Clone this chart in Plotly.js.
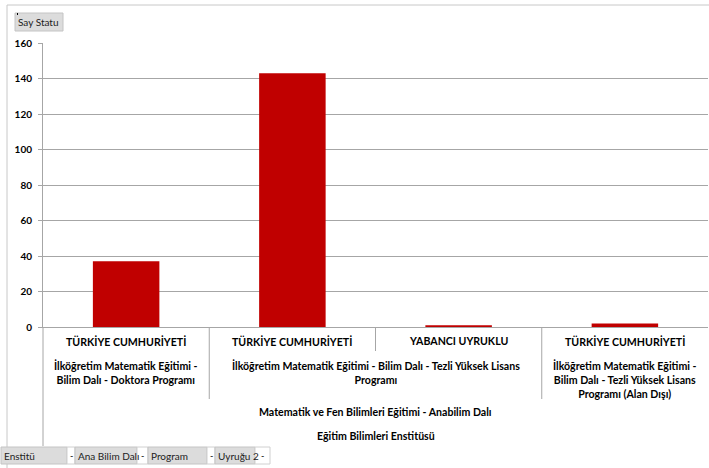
<!DOCTYPE html>
<html><head><meta charset="utf-8">
<script src="https://cdn.plot.ly/plotly-3.0.1.min.js"></script>
<style>html,body{margin:0;padding:0;background:#fff;}#chart{width:709px;height:468px;}</style>
</head><body><div id="chart"></div>
<script>
const categories = ["c1","c2","c3","c4"];
const values = [37, 143, 1, 2];
const uyruk = ["TÜRKİYE CUMHURİYETİ","TÜRKİYE CUMHURİYETİ","YABANCI UYRUKLU","TÜRKİYE CUMHURİYETİ"];
const programs = [
  {text:"İlköğretim Matematik Eğitimi -<br>Bilim Dalı - Doktora Programı", from:0, to:0},
  {text:"İlköğretim Matematik Eğitimi - Bilim Dalı - Tezli Yüksek Lisans<br>Programı", from:1, to:2},
  {text:"İlköğretim Matematik Eğitimi -<br>Bilim Dalı - Tezli Yüksek Lisans<br>Programı (Alan Dışı)", from:3, to:3}
];
const anabilim = "Matematik ve Fen Bilimleri Eğitimi - Anabilim Dalı";
const enstitu = "Eğitim Bilimleri Enstitüsü";
const yTicks = [0,20,40,60,80,100,120,140,160];
const fieldButtons = ["Enstitü","Ana Bilim Dalı","Program","Uyruğu 2"];
const dataButton = "Say Statu";

const L=43, R=708, T=43, B=327, W=709, H=468;
const pw=R-L, ph=B-T;
const px=x=>(x-L)/pw, py=y=>(B-y)/ph;
const FONT="Lato, 'Open Sans', sans-serif";
const txt="#000";
const line="#a6a6a6";
const FS=10.6;

const shapes=[], ann=[];
// outer border
shapes.push({type:'line',xref:'paper',yref:'paper',x0:px(7),x1:px(7),y0:py(5),y1:py(468),line:{color:'#c8c8c8',width:1}});
shapes.push({type:'line',xref:'paper',yref:'paper',x0:px(7),x1:px(709),y0:py(5),y1:py(5),line:{color:'#c8c8c8',width:1}});
// category dividers
const catW=pw/categories.length;
[0,1,2,3,4].forEach(i=>{
  let xp=L+i*catW;
  let bottom;
  if(i===0) bottom=446;
  else if(i===4) bottom=B;
  else {
    const spans=programs.some(p=>p.from<i && p.to>=i);
    bottom = spans?351:399;
  }
  if(bottom>B) shapes.push({type:'line',xref:'paper',yref:'paper',x0:px(xp),x1:px(xp),y0:py(B),y1:py(bottom),line:{color:line,width:1}});
});
uyruk.forEach((u,i)=>{
  ann.push({xref:'paper',yref:'paper',x:px(L+(i+0.5)*catW),y:py(341),text:'<b>'+u+'</b>',showarrow:false,font:{family:FONT,size:FS,color:txt},xanchor:'center',yanchor:'middle'});
});
programs.forEach(p=>{
  const cx=L+((p.from+p.to+1)/2)*catW;
  ann.push({xref:'paper',yref:'paper',x:px(cx),y:py(357),text:'<b>'+p.text+'</b>',showarrow:false,font:{family:FONT,size:FS,color:txt},xanchor:'center',yanchor:'top',align:'center'});
});
ann.push({xref:'paper',yref:'paper',x:px((L+R)/2),y:py(412),text:'<b>'+anabilim+'</b>',showarrow:false,font:{family:FONT,size:FS,color:txt},xanchor:'center',yanchor:'middle'});
ann.push({xref:'paper',yref:'paper',x:px((L+R)/2),y:py(436),text:'<b>'+enstitu+'</b>',showarrow:false,font:{family:FONT,size:FS,color:txt},xanchor:'center',yanchor:'middle'});

function button(x0,x1,y0,y1,label){
  shapes.push({type:'rect',xref:'paper',yref:'paper',x0:px(x0),x1:px(x1),y0:py(y0),y1:py(y1),fillcolor:'#dcdcdc',line:{color:'#c4c4c4',width:1}});
  ann.push({xref:'paper',yref:'paper',x:px(x0+1),y:py((y0+y1)/2),text:label,showarrow:false,font:{family:FONT,size:10,color:'#222'},xanchor:'left',yanchor:'middle'});
}
function drop(x0,x1,y0,y1){
  shapes.push({type:'rect',xref:'paper',yref:'paper',x0:px(x0),x1:px(x1),y0:py(y0),y1:py(y1),fillcolor:'#ffffff',line:{color:'#d0d0d0',width:1}});
  ann.push({xref:'paper',yref:'paper',x:px((x0+x1)/2),y:py((y0+y1)/2),text:'-',showarrow:false,font:{family:FONT,size:9,color:'#000'},xanchor:'center',yanchor:'middle'});
}
button(15,63,13,31,dataButton);
const bpos=[[1,67,75],[75,137,148],[148,207,215],[215,255,270]];
fieldButtons.forEach((f,i)=>{
  const [a,b,c]=bpos[i];
  button(a,b,447,464,f);
  drop(b,c,447,464);
});
shapes.push({type:'rect',xref:'paper',yref:'paper',x0:px(17),x1:px(18),y0:py(13),y1:py(15),fillcolor:'#000',line:{width:0}});

Plotly.newPlot('chart',[{
  type:'bar',x:categories,y:values,marker:{color:'#c00000',line:{width:0}},hoverinfo:'none'
}],{
  width:W,height:H,
  margin:{l:L,r:W-R,t:T,b:H-B,pad:0},
  paper_bgcolor:'#fff',plot_bgcolor:'#fff',
  bargap:0.6,
  showlegend:false,
  xaxis:{type:'category',showticklabels:false,showgrid:false,zeroline:false,showline:true,linecolor:line,linewidth:1,ticks:'',range:[-0.5,3.5],fixedrange:true},
  yaxis:{range:[0,160],tickvals:yTicks,ticktext:yTicks.map(String),showgrid:true,gridcolor:line,gridwidth:1,zeroline:false,showline:true,linecolor:line,linewidth:1,ticks:'outside',ticklen:4,tickcolor:line,
    tickfont:{family:FONT,size:10,color:txt,weight:'bold'},ticklabelstandoff:4,fixedrange:true},
  shapes:shapes,annotations:ann
},{displayModeBar:false,staticPlot:true});
</script></body></html>
